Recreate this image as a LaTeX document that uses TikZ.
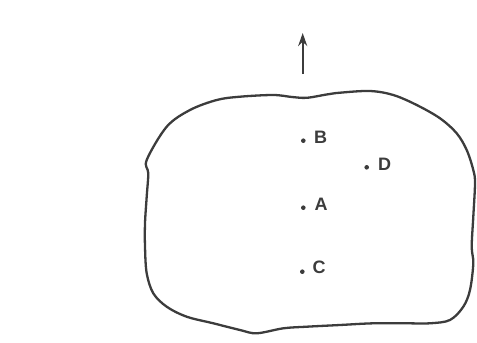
\documentclass[tikz,border=0pt]{standalone}
\usepackage{fontspec}
\setmainfont{Liberation Sans}
\usetikzlibrary{arrows.meta}
\definecolor{ink}{HTML}{3c3c3c}
\begin{document}
\begin{tikzpicture}[x=1pt,y=-1pt,
  pt/.style={circle,fill=ink,inner sep=0pt,minimum size=4.6pt},
  lbl/.style={text=ink,font=\fontsize{18}{18}\selectfont\bfseries,inner sep=0pt,anchor=base west},
  outline/.style={draw=ink,line width=2.3pt,line join=round}]
\useasboundingbox (0,0) rectangle (477,343);
\draw[outline] plot[smooth cycle,tension=0.55] coordinates {
(146.7,160) (166.7,126.7) (190,110) (216.7,100) (240,96.7) (273.3,95) (292,97)
(306.7,97.8) (326.7,94.5) (340,92.7) (370,91) (393.3,95) (416.7,105) (440,118.3)
(456.7,133.3) (466.7,150) (473.3,170) (475,183.3) (473.3,216.7) (471.7,246.7)
(473.3,263.3) (470,290) (463.3,306.7) (450,320) (430,323.3) (406.7,323.3)
(373.3,323.3) (340,325) (306.7,326.7) (283.3,328.3) (256.7,333.3) (240,330)
(213.3,323.3) (186.7,316.7) (166.7,306.7) (153.3,293.3) (146.7,273.3) (145,246.7)
(145,223.3) (146.7,196.7) (148.3,173.3)};
\coordinate (tail) at (302.7,74);
\coordinate (head) at (302.7,33);
\draw[draw=ink,line width=2.3pt,-{Stealth[length=13pt,width=9pt]}] (tail) -- (head);
\node[pt] (b) at (303.3,140.7) {};
\node[pt] (d) at (366.7,167.3) {};
\node[pt] (a) at (303.3,207.7) {};
\node[pt] (c) at (302.3,271.7) {};
\node[lbl] (lb) at (314,143.5) {B};
\node[lbl] (ld) at (378,170.5) {D};
\node[lbl] (la) at (314.5,210.5) {A};
\node[lbl] (lc) at (312.5,273.5) {C};
\end{tikzpicture}
\end{document}
